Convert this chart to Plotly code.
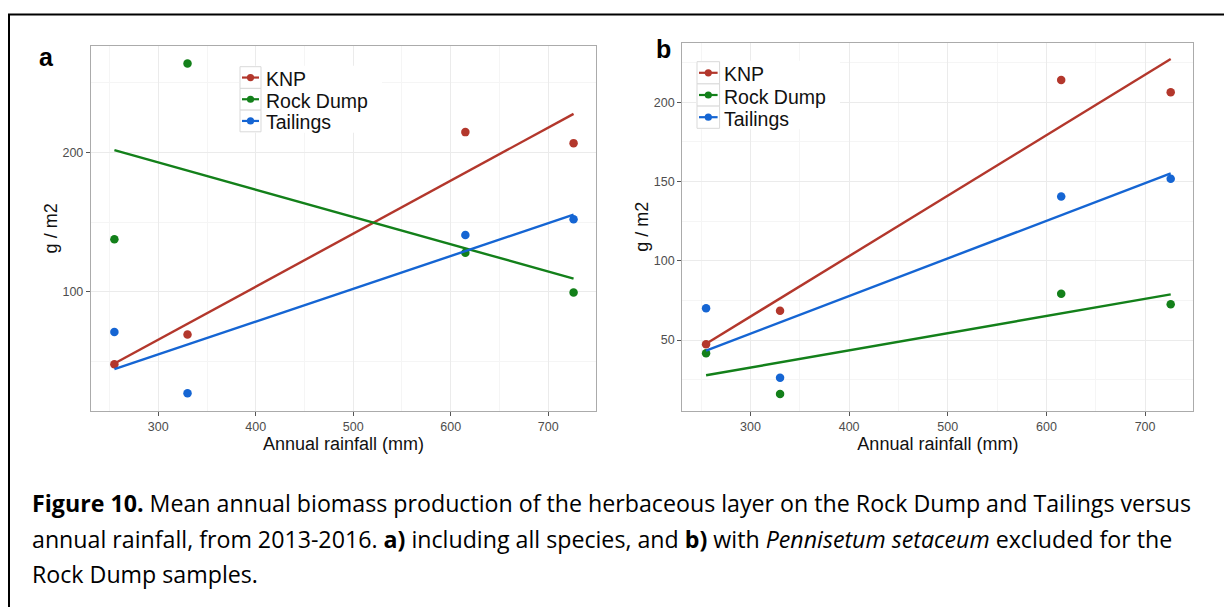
import numpy as np
import plotly.graph_objects as go

# ---------------- data ----------------
rainfall = [255, 330, 615, 726]          # mm, Annual rainfall
series = ["KNP", "Rock Dump", "Tailings"]

# panel a: including all species
a_knp = [48.0, 69.3, 214.5, 206.6]
a_rock = [137.6, 263.8, 128.0, 99.5]
a_tail = [71.0, 27.1, 140.7, 152.0]

# panel b: Pennisetum setaceum excluded for the Rock Dump samples
b_knp = [47.3, 68.5, 214.0, 206.3]
b_rock = [41.6, 15.9, 79.2, 72.5]
b_tail = [70.0, 26.2, 140.5, 151.7]

x_ticks = [300, 400, 500, 600, 700]
a_y_ticks = [100, 200]
b_y_ticks = [50, 100, 150, 200]

colors = {"KNP": "#B3372C", "Rock Dump": "#13801A", "Tailings": "#1565D3"}

W, H = 1224, 607


def px(x):
    return x / W


def py(y):
    return 1 - y / H


fig = go.Figure()

panels = [
    ("x", "y", {"KNP": a_knp, "Rock Dump": a_rock, "Tailings": a_tail}),
    ("x2", "y2", {"KNP": b_knp, "Rock Dump": b_rock, "Tailings": b_tail}),
]

for xa, ya, data in panels:
    for name in series:
        vals = data[name]
        # least-squares trend line, as in the original (lm fit)
        slope, icpt = np.polyfit(rainfall, vals, 1)
        xl = [min(rainfall), max(rainfall)]
        yl = [icpt + slope * v for v in xl]
        fig.add_trace(go.Scatter(
            x=xl, y=yl, mode="lines", xaxis=xa, yaxis=ya, name=name,
            line=dict(color=colors[name], width=2.4), showlegend=False,
            hoverinfo="skip"))
        fig.add_trace(go.Scatter(
            x=rainfall, y=vals, mode="markers", xaxis=xa, yaxis=ya, name=name,
            marker=dict(color=colors[name], size=8.5), showlegend=False))

tick_font = dict(family="Liberation Sans, Arial", size=12.5, color="#4D4D4D")
title_font = dict(family="Liberation Sans, Arial", size=18, color="#111111")


def x_axis(domain, anchor):
    return dict(
        domain=domain, anchor=anchor, range=[231, 749],
        tickmode="array", tickvals=x_ticks, ticktext=[str(v) for v in x_ticks],
        showline=True, mirror=True, linecolor="#ABABAB", linewidth=1.4,
        ticks="outside", ticklen=4, tickcolor="#555555", tickwidth=1,
        tickfont=tick_font, showgrid=True, gridcolor="#EBEBEB", gridwidth=1.1,
        minor=dict(dtick=50, tick0=0, showgrid=True, gridcolor="#F5F5F5", gridwidth=1, ticks=""),
        zeroline=False, automargin=True,
        title=dict(text="Annual rainfall (mm)", font=title_font, standoff=2),
    )


def y_axis(domain, anchor, rng, ticks, minor_dt):
    return dict(
        domain=domain, anchor=anchor, range=rng,
        tickmode="array", tickvals=ticks, ticktext=[str(v) for v in ticks],
        showline=True, mirror=True, linecolor="#ABABAB", linewidth=1.4,
        ticks="outside", ticklen=4, tickcolor="#555555", tickwidth=1,
        tickfont=tick_font, showgrid=True, gridcolor="#EBEBEB", gridwidth=1.1,
        minor=dict(dtick=minor_dt, tick0=0, showgrid=True, gridcolor="#F5F5F5", gridwidth=1, ticks=""),
        zeroline=False, automargin=True,
        title=dict(text="g / m2", font=title_font, standoff=0),
    )


fig.update_layout(
    width=W, height=H,
    margin=dict(l=0, r=0, t=0, b=0, autoexpand=False),
    paper_bgcolor="white", plot_bgcolor="white",
    showlegend=False,
    xaxis=x_axis([px(91), px(596)], "y"),
    yaxis=y_axis([py(410.7), py(46)], "x", [14.6, 276.3], a_y_ticks, 50),
    xaxis2=x_axis([px(682.4), px(1193.4)], "y2"),
    yaxis2=y_axis([py(410.7), py(42.7)], "x2", [5.4, 237.6], b_y_ticks, 25),
)

shapes = []
annotations = []

# ---------- legends (drawn inside each panel, ggplot style) ----------
legend_specs = [
    # key box left, key box right, top, row height, text x
    (240, 261, 66.7, 21.7, 264),
    (697, 719.6, 61.7, 22.2, 722),
]
leg_font = dict(family="Liberation Sans, Arial", size=19.5, color="#111111")
for (kx0, kx1, top, rh, tx) in legend_specs:
    shapes.append(dict(type="rect", xref="paper", yref="paper",
                       x0=px(kx0 - 1), x1=px(tx + 118), y0=py(top + 3 * rh + 1), y1=py(top - 1),
                       fillcolor="white", line=dict(width=0), layer="above"))
    for i, name in enumerate(series):
        y0 = top + i * rh
        yc = y0 + rh / 2
        shapes.append(dict(type="rect", xref="paper", yref="paper",
                           x0=px(kx0), x1=px(kx1), y0=py(y0 + rh), y1=py(y0),
                           fillcolor="white", line=dict(color="#D9D9D9", width=1), layer="above"))
        shapes.append(dict(type="line", xref="paper", yref="paper",
                           x0=px(kx0 + 2), x1=px(kx1 - 2), y0=py(yc), y1=py(yc),
                           line=dict(color=colors[name], width=2.2), layer="above"))
        cx = (kx0 + kx1) / 2
        shapes.append(dict(type="circle", xref="paper", yref="paper",
                           x0=px(cx - 3.6), x1=px(cx + 3.6), y0=py(yc + 3.6), y1=py(yc - 3.6),
                           fillcolor=colors[name], line=dict(width=0), layer="above"))
        annotations.append(dict(xref="paper", yref="paper", x=px(tx), y=py(yc + 1.5),
                                xanchor="left", yanchor="middle", showarrow=False,
                                text=name, font=leg_font))

# ---------- panel letters ----------
letter_font = dict(family="Liberation Sans, Arial", size=25, color="black")
annotations.append(dict(xref="paper", yref="paper", x=px(46.5), y=py(57), xanchor="center",
                        yanchor="middle", showarrow=False, text="<b>a</b>", font=letter_font))
annotations.append(dict(xref="paper", yref="paper", x=px(663), y=py(49), xanchor="center",
                        yanchor="middle", showarrow=False, text="<b>b</b>", font=letter_font))

# ---------- caption ----------
cap_font = dict(family="Open Sans, Lato, sans-serif", size=23.2, color="black")
caption = [
    "<b>Figure 10.</b> Mean annual biomass production of the herbaceous layer on the Rock Dump and Tailings versus",
    "annual rainfall, from 2013-2016. <b>a)</b> including all species, and <b>b)</b> with <i>Pennisetum setaceum</i> excluded for the",
    "Rock Dump samples.",
]
for i, line in enumerate(caption):
    annotations.append(dict(xref="paper", yref="paper", x=px(30), y=py(503 + i * 35.5),
                            xanchor="left", yanchor="middle", showarrow=False,
                            text=line, font=cap_font))

# ---------- outer frame (top and left rules) ----------
shapes.append(dict(type="line", xref="paper", yref="paper", x0=px(8), x1=1, y0=py(14.5), y1=py(14.5),
                   line=dict(color="black", width=2)))
shapes.append(dict(type="line", xref="paper", yref="paper", x0=px(9), x1=px(9), y0=py(14), y1=0,
                   line=dict(color="black", width=2)))

fig.update_layout(shapes=shapes, annotations=annotations)
fig.write_html("out.html", config={"displayModeBar": False},
               post_script="document.body.style.margin='0';document.body.style.padding='0';")
